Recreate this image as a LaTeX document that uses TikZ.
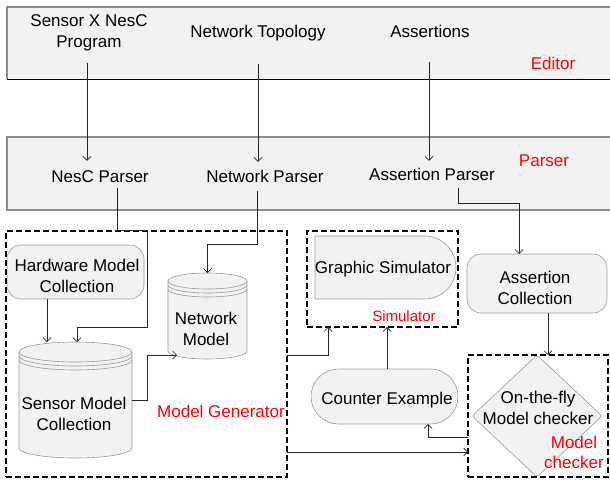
\documentclass[tikz,border=0pt]{standalone}
\usepackage{fontspec}
\setmainfont{Liberation Sans}
\usetikzlibrary{arrows.meta,shapes.geometric,calc}
\definecolor{shapefill}{HTML}{F2F2F2}
\definecolor{shapeline}{HTML}{999999}
\definecolor{bandline}{HTML}{8C8C8C}
\pgfdeclarelayer{bg}
\pgfsetlayers{bg,main}
\newcommand\mydb[5]{%
  \pgfmathsetmacro\dbrx{#3/2}%
  \pgfmathsetmacro\dbR{#1+#3}%
  \pgfmathsetmacro\dbyt{-#2-#5}%
  \pgfmathsetmacro\dbyb{-#2-#4+#5}%
  \path[shp] (#1,\dbyt) -- (#1,\dbyb) arc[start angle=180,end angle=360,x radius=\dbrx,y radius=#5] -- (\dbR,\dbyt) arc[start angle=0,end angle=180,x radius=\dbrx,y radius=#5] -- cycle;
  \foreach \k in {0,4,8}{\draw[shapeline,line width=0.6pt] (#1,\dbyt-\k) arc[start angle=180,end angle=360,x radius=\dbrx,y radius=#5];}%
}
\begin{document}
\begin{tikzpicture}[x=1pt,y=1pt,
  every node/.style={font=\fontsize{17}{21}\selectfont, inner sep=0pt, outer sep=0pt, align=center},
  lbl/.style={text=red},
  arr/.style={draw=black!85, line width=0.7pt, -{Straight Barb[length=4pt,width=8pt]}},
  shp/.style={fill=shapefill, draw=shapeline, line width=0.6pt},
  dbox/.style={draw=black, line width=1.3pt, dash pattern=on 6pt off 3pt}]
\useasboundingbox (0,0) rectangle (610,-479);

% editor texts
\node (sx) at (89,-33) {Sensor X NesC\\Program};
\node (nt) at (258,-33) {Network Topology};
\node (as) at (430,-31) {Assertions};
\node[lbl] (edl) at (553,-63) {Editor};
% parser texts
\node (np) at (100,-177) {NesC Parser};
\node (netp) at (265,-176) {Network Parser};
\node (ap) at (432,-174) {Assertion Parser};
\node[lbl] (pl) at (544,-161) {Parser};

% shapes
\node[shp, rounded corners=14pt, minimum width=137pt, minimum height=54pt] (hw) at (75.5,-272) {};
\node (hwt) at (77,-276) {Hardware Model\\Collection};
\node[shp, rounded corners=14pt, minimum width=140pt, minimum height=59pt] (ac) at (537,-283.5) {};
\node (act) at (535,-287.5) {Assertion\\Collection};
\node[shp, rounded corners=27.5pt, minimum width=147pt, minimum height=55pt] (ce) at (384.5,-396.5) {};
\node (cet) at (387,-400) {Counter Example};
\node[minimum width=141pt, minimum height=63pt] (gs) at (385.5,-267.5) {};
\node (gst) at (383,-269.5) {Graphic Simulator};
\node[shp, diamond, minimum width=130pt, minimum height=122pt, rounded corners=3pt] (dm) at (537,-416) {};
\node (mc) at (538,-407.5) {On-the-fly\\Model checker};
\node[minimum width=113pt, minimum height=116pt] (smc) at (75.5,-400) {};
\node (smct) at (74,-413.5) {Sensor Model\\Collection};
\node[minimum width=79pt, minimum height=86pt] (nm) at (207.5,-316) {};
\node (nmt) at (206,-328.5) {Network\\Model};

% containers
\node[dbox, minimum width=281pt, minimum height=246pt] (mg) at (146.5,-354) {};
\node[dbox, minimum width=151pt, minimum height=96pt] (sb) at (382.5,-279) {};
\node[dbox, minimum width=140pt, minimum height=122pt] (mcb) at (538,-416) {};

% labels
\node[lbl] (mgl) at (221,-411) {Model Generator};
\node[lbl, font=\fontsize{15}{18}\selectfont] (sbl) at (404,-316.5) {Simulator};
\node[lbl, font=\fontsize{17}{20}\selectfont] (mcl) at (574,-452.5) {Model\\checker};

\begin{pgfonlayer}{bg}
  \fill[shapefill] (7,-7) rectangle (615,-79);
  \draw[bandline,line width=1.5pt] (615,-7) -- (7,-7) -- (7,-79);
  \draw[black,line width=0.8pt] (6.5,-79) -- (615,-79);
  \fill[shapefill] (7,-137) rectangle (615,-210);
  \draw[bandline,line width=1.5pt] (615,-137) -- (7,-137) -- (7,-210) -- (615,-210);
  \path[shp] (gs.south west) -- (gs.north west) -- ($(gs.north east)+(-31.5,0)$) arc[start angle=90,end angle=-90,radius=31.5] -- cycle;
  \mydb{19}{342}{113}{116}{10}
  \mydb{168}{273}{79}{86}{8}
\end{pgfonlayer}

% connectors
\draw[arr] ($(sx.south)+(-2,-12)$) -- ($(sx.south |- np.north)+(-2,10)$);
\draw[arr] ($(nt.south)+(0,-23)$) -- ($(nt.south |- netp.north)+(0,8)$);
\draw[arr] ($(as.south)+(-1,-25)$) -- ($(as.south |- ap.north)+(-1,7)$);
\draw[arr] ($(np.south)+(17,-5)$) |- (147,-230) |- (77,-327) -- ($(smc.north)+(1.5,0)$);
\draw[arr] ($(hw.south)+(-28.5,0)$) -- ($(smc.north)+(-28.5,0)$);
\draw[arr] ($(netp.south)+(-8,-9)$) |- (207.5,-244) -- (nm.north);
\draw[arr] ($(ap.south)+(26,-8)$) |- (519,-203) -- ($(ac.north)+(-18,0)$);
\draw[arr] (smc.east) -| (147,-355) -- ($(nm.south west)+(9,4)$);
\draw[arr] ($(mg.east)+(0,-1)$) -| ($(sb.south west)+(21,0)$);
\draw[arr] ($(mg.east)+(0,-98)$) -- ($(mcb.west)+(0,-36)$);
\draw[arr] ($(ce.north)+(2.5,0)$) -- ($(ce.north |- sb.south)+(2.5,0)$);
\draw[arr] ($(mcb.west)+(0,-21)$) -| ($(ce.south)+(43.5,0)$);
\draw[arr] ($(ac.south)+(11,0)$) -- ($(mcb.north)+(10,0)$);
\end{tikzpicture}
\end{document}
